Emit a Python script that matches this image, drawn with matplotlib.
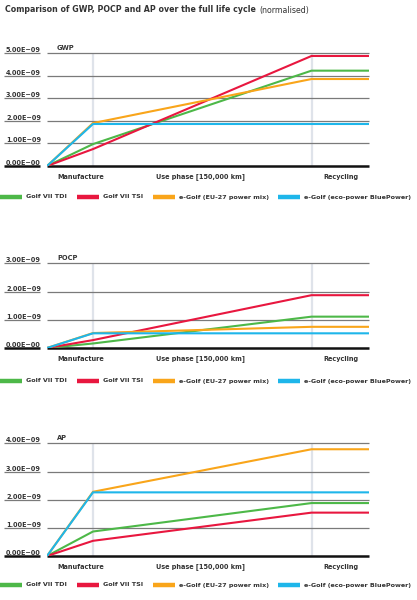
'''
GWP, POCP and AP of Golf variants over the life cycle (normalised)
'''
import matplotlib
matplotlib.use('Agg')
import matplotlib.pyplot as plt
import matplotlib.transforms as mtransforms

# x positions: start, end of manufacture, end of use phase, end of recycling
stages_x = [0, 1, 5.75, 7]
phase_labels = ['Manufacture', 'Use phase [150,000 km]', 'Recycling']
phase_label_x = [0.74, 3.33, 6.39]

series_names = ['Golf VII TDI', 'Golf VII TSI', 'e-Golf (EU-27 power mix)',
                'e-Golf (eco-power BluePower)']
series_colors = ['#4db848', '#e8173f', '#f9a51a', '#1eb6ea']

# values in units of 1E-09
gwp = [[0, 0.97, 4.22, 4.22],
       [0, 0.75, 4.87, 4.87],
       [0, 1.90, 3.85, 3.85],
       [0, 1.86, 1.86, 1.86]]
pocp = [[0, 0.16, 1.11, 1.11],
        [0, 0.28, 1.87, 1.87],
        [0, 0.53, 0.75, 0.75],
        [0, 0.52, 0.52, 0.52]]
ap = [[0, 0.87, 1.88, 1.88],
      [0, 0.54, 1.54, 1.54],
      [0, 2.28, 3.79, 3.79],
      [0, 2.26, 2.26, 2.26]]

panels = [('GWP', gwp, 5, [0.7233, 0.1883]),
          ('POCP', pocp, 3, [0.4200, 0.1412]),
          ('AP', ap, 4, [0.0733, 0.1878])]

W, H = 417, 600
TXT = '#333333'


def draw_panel(fig, name, data, ymax, pos):
    bottom, height = pos
    ax = fig.add_axes([47 / W, bottom, 322 / W, height])
    ax.set_xlim(0, 7)
    ax.set_ylim(0, ymax)
    for s in ax.spines.values():
        s.set_visible(False)
    ax.set_xticks([])
    ax.set_yticks([])

    # vertical phase separators
    for xv in (stages_x[1], stages_x[2]):
        ax.axvline(xv, color='#dfe3ea', lw=1.6, zorder=0)

    trans = mtransforms.blended_transform_factory(ax.transAxes, ax.transData)
    for v in range(ymax + 1):
        lw = 1.8 if v == 0 else 0.9
        col = '#111111' if v == 0 else '#7a7a7a'
        ax.plot([0, 1], [v, v], transform=trans, color=col, lw=lw,
                zorder=1, clip_on=False, solid_capstyle='butt')
        # underlined tick label
        ax.plot([-43 / 322, -7 / 322], [v, v], transform=trans, color=col,
                lw=lw, clip_on=False, solid_capstyle='butt')
        lab = '{:.2f}E−{}'.format(v, '00' if v == 0 else '09')
        ax.text(-41 / 322, v, lab, transform=trans, ha='left', va='bottom',
                fontsize=4.7, fontweight='bold', color=TXT)
    offset = mtransforms.ScaledTranslation(0, 2 / 100, fig.dpi_scale_trans)
    ax.text(10 / 322, ymax, name, transform=trans + offset, ha='left',
            va='bottom', fontsize=4.8, fontweight='bold', color=TXT)

    for vals, col in zip(data, series_colors):
        ax.plot(stages_x, vals, color=col, lw=1.5, zorder=3,
                solid_joinstyle='miter')

    for lx, lab in zip(phase_label_x, phase_labels):
        ax.text(lx, -11 / (height * H) * ymax, lab, ha='center', va='center',
                fontsize=4.7, fontweight='bold', color=TXT)
    return ax


def draw_legend(fig, y_px):
    patch_x = [0, 77, 153, 278]
    for px, nm, col in zip(patch_x, series_names, series_colors):
        y = 1 - y_px / H
        fig.add_artist(plt.Line2D([px / W, (px + 22) / W], [y, y],
                                  color=col, lw=3.2,
                                  solid_capstyle='butt'))
        fig.text((px + 26) / W, y, nm, ha='left', va='center',
                 fontsize=4.6, fontweight='bold', color=TXT)


def main():
    fig = plt.figure(figsize=(W / 100, H / 100), dpi=100)
    t = fig.text(5 / W, 1 - 10 / H,
                 'Comparison of GWP, POCP and AP over the full life cycle',
                 ha='left', va='center', fontsize=5.7, fontweight='bold',
                 color=TXT)
    fig.canvas.draw()
    x_end = t.get_window_extent().x1
    fig.text((x_end + 3) / W, 1 - 10 / H, '(normalised)', ha='left',
             va='center', fontsize=5.7, color=TXT)

    for (name, data, ymax, pos), leg_y in zip(panels, [197, 381, 585]):
        draw_panel(fig, name, data, ymax, pos)
        draw_legend(fig, leg_y)

    fig.savefig('out.png', dpi=100)


if __name__ == '__main__':
    main()
